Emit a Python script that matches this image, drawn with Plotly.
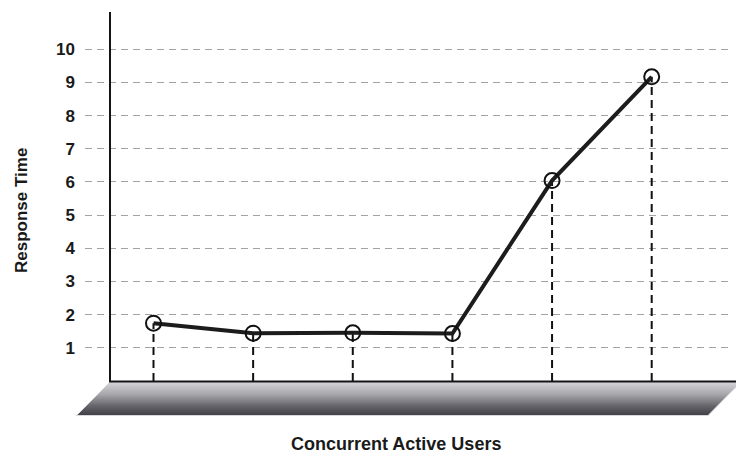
import plotly.graph_objects as go

# Load test: response time measured at six levels of concurrent users
user_levels = [1, 2, 3, 4, 5, 6]
response_time = [1.74, 1.44, 1.45, 1.43, 6.04, 9.17]
y_ticks = [1, 2, 3, 4, 5, 6, 7, 8, 9, 10]

W, H = 736, 457
FONT = "Liberation Sans, Arial, Helvetica, sans-serif"


def px(x):
    return x / W


def py(y):
    return 1 - y / H


fig = go.Figure()

# dashed drop lines from each measurement down to the baseline
drop_x, drop_y = [], []
for x, v in zip(user_levels, response_time):
    drop_x += [x, x, None]
    drop_y += [0, v, None]
fig.add_trace(go.Scatter(
    x=drop_x, y=drop_y, mode="lines",
    line=dict(color="#111111", width=2, dash="8px,5px"),
    hoverinfo="skip", showlegend=False,
))

# response curve with hollow circle markers
fig.add_trace(go.Scatter(
    x=user_levels, y=response_time, mode="lines+markers",
    line=dict(color="#1c1c1c", width=4),
    marker=dict(symbol="circle-open", size=15,
                line=dict(color="#111111", width=2), color="#111111"),
    showlegend=False,
))

# shaded 3D-looking floor under the x axis, on a page-sized helper subplot
fig.add_trace(go.Scatter(
    x=[110, 741, 708, 76.5, 110], y=[382, 382, 415.5, 415.5, 382],
    xaxis="x2", yaxis="y2", mode="lines", fill="toself",
    line=dict(width=1, color="#d8d8dc"),
    fillgradient=dict(type="vertical",
                      colorscale=[[0, "#3e3e44"], [0.3, "#66666c"],
                                  [0.65, "#a6a6ab"], [1, "#d2d2d6"]],
                      start=415.5, stop=383),
    hoverinfo="skip", showlegend=False,
))

x_left, x_right = 85, 732
x_first, x_last = 153.5, 651.7
unit = (x_last - x_first) / (user_levels[-1] - user_levels[0])
y_bottom, y_top = 380.9, 12
y_unit = 33.16

fig.update_layout(
    width=W, height=H,
    margin=dict(l=0, r=0, t=0, b=0),
    paper_bgcolor="white", plot_bgcolor="rgba(0,0,0,0)",
    xaxis=dict(
        domain=[px(x_left), px(x_right)],
        range=[user_levels[0] - (x_first - x_left) / unit,
               user_levels[-1] + (x_right - x_last) / unit],
        showgrid=False, zeroline=False, showline=False,
        showticklabels=False, ticks="",
    ),
    yaxis=dict(
        domain=[py(y_bottom), py(y_top)],
        range=[0, (y_bottom - y_top) / y_unit],
        tickvals=y_ticks, ticktext=[str(t) for t in y_ticks],
        showgrid=True, gridcolor="#a3a3a3", gridwidth=1, griddash="7px,5px",
        zeroline=False, showline=False, ticks="",
        tickfont=dict(family=FONT, size=17, color="#1a1a1a", weight="bold"),
        ticklabelstandoff=9,
    ),
    xaxis2=dict(domain=[0, 1], range=[0, W], anchor="y2", visible=False,
                fixedrange=True),
    yaxis2=dict(domain=[0, 1], range=[H, 0], anchor="x2", visible=False,
                fixedrange=True),
    shapes=[
        # vertical axis
        dict(type="line", xref="paper", yref="paper",
             x0=px(110), x1=px(110), y0=py(382), y1=py(y_top),
             line=dict(color="#151515", width=2)),
        # horizontal axis
        dict(type="line", xref="paper", yref="paper",
             x0=px(109), x1=px(740), y0=py(381.5), y1=py(381.5),
             line=dict(color="#151515", width=2)),
    ],
    annotations=[
        dict(text="Response Time", xref="paper", yref="paper",
             x=px(21), y=py(211), textangle=-90, showarrow=False,
             xanchor="center", yanchor="middle",
             font=dict(family=FONT, size=17, color="#1a1a1a", weight="bold")),
        dict(text="Concurrent Active Users", xref="paper", yref="paper",
             x=px(396), y=py(456), showarrow=False,
             xanchor="center", yanchor="bottom",
             font=dict(family=FONT, size=18, color="#1a1a1a", weight="bold")),
    ],
)

fig.write_html("out.html")
